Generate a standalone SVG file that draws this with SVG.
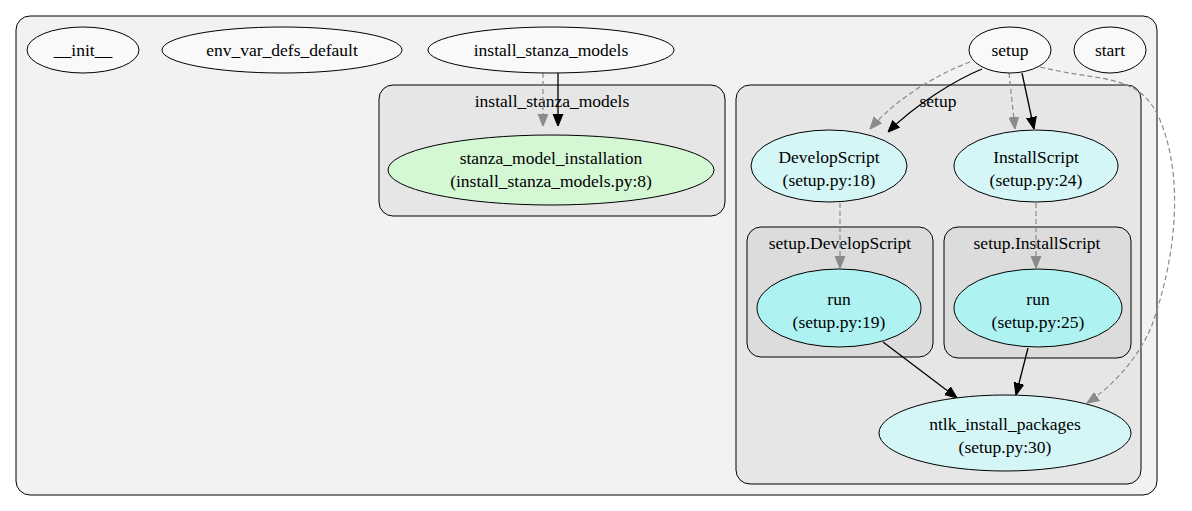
<svg xmlns="http://www.w3.org/2000/svg" width="1192" height="511" viewBox="0 0 1192 511">
<style>
text{font-family:"Times New Roman",Times,"Liberation Serif","DejaVu Serif",serif;font-size:17.5px;fill:#000;text-anchor:middle}
.cl{stroke:#000;stroke-width:1}
.n{stroke:#000;stroke-width:1}
.w{fill:#f9f9f9}
.e{fill:none;stroke:#000;stroke-width:1.3}
.d{fill:none;stroke:#888c8c;stroke-width:1.2;stroke-dasharray:5,3}
</style>
<defs>
<marker id="ab" markerUnits="userSpaceOnUse" markerWidth="12" markerHeight="12" refX="10" refY="5" orient="auto" viewBox="0 0 10 10"><path d="M0,1 L10,5 L0,9 Z" fill="#000" stroke="#000"/></marker>
<marker id="ag" markerUnits="userSpaceOnUse" markerWidth="12" markerHeight="12" refX="10" refY="5" orient="auto" viewBox="0 0 10 10"><path d="M0,1 L10,5 L0,9 Z" fill="#888c8c" stroke="#888c8c"/></marker>
</defs>
<rect width="1192" height="511" fill="#fff"/>
<g id="cluster_root"><rect class="cl" x="16" y="16" width="1141" height="479" rx="14" fill="#f2f2f2"/></g>
<g id="cluster_install_stanza_models"><rect class="cl" x="379" y="85" width="346" height="131" rx="14" fill="#e6e6e6"/><text x="552" y="107">install_stanza_models</text></g>
<g id="cluster_setup"><rect class="cl" x="736" y="85" width="405" height="399" rx="14" fill="#e6e6e6"/><text x="938" y="107">setup</text></g>
<g id="cluster_setup_DevelopScript"><rect class="cl" x="747" y="227" width="186" height="130" rx="14" fill="#dcdcdc"/><text x="840" y="249">setup.DevelopScript</text></g>
<g id="cluster_setup_InstallScript"><rect class="cl" x="944" y="227" width="187" height="131" rx="14" fill="#dcdcdc"/><text x="1037" y="249">setup.InstallScript</text></g>
<g id="connectors">
<path class="d" d="M543,73 L543,126" marker-end="url(#ag)"/>
<path class="e" d="M558,73 L558,126" marker-end="url(#ab)"/>
<path class="d" d="M970,62 C935,75 895,100 870,129" marker-end="url(#ag)"/>
<path class="e" d="M982,69 C955,80 915,105 888,132" marker-end="url(#ab)"/>
<path class="d" d="M1009,73 L1015,129" marker-end="url(#ag)"/>
<path class="e" d="M1022,73 L1034,129" marker-end="url(#ab)"/>
<path class="d" d="M1040,67 C1100,82 1140,72 1160,120 C1185,180 1175,260 1152,325 C1138,360 1110,388 1087,403" marker-end="url(#ag)"/>
<path class="d" d="M840,203 L840,268" marker-end="url(#ag)"/>
<path class="d" d="M1036,203 L1036,268" marker-end="url(#ag)"/>
<path class="e" d="M883,342 L957,398" marker-end="url(#ab)"/>
<path class="e" d="M1028,348 L1016,395" marker-end="url(#ab)"/>
</g>
<g id="node_init"><ellipse class="n w" cx="83" cy="50" rx="56" ry="23"/><text x="83" y="56">__init__</text></g>
<g id="node_env_var_defs_default"><ellipse class="n w" cx="282" cy="50" rx="120" ry="23"/><text x="282" y="56">env_var_defs_default</text></g>
<g id="node_install_stanza_models"><ellipse class="n w" cx="551" cy="50" rx="123" ry="23"/><text x="551" y="56">install_stanza_models</text></g>
<g id="node_setup"><ellipse class="n w" cx="1010" cy="50" rx="41" ry="23"/><text x="1010" y="56">setup</text></g>
<g id="node_start"><ellipse class="n w" cx="1110" cy="50" rx="36" ry="23"/><text x="1110" y="56">start</text></g>
<g id="node_stanza_model_installation"><ellipse class="n" cx="551" cy="170" rx="163" ry="35" fill="#d4f7d4"/><text x="551" y="164">stanza_model_installation</text><text x="551" y="187">(install_stanza_models.py:8)</text></g>
<g id="node_DevelopScript"><ellipse class="n" cx="829" cy="166" rx="78" ry="36" fill="#d4f6f6"/><text x="829" y="163">DevelopScript</text><text x="829" y="186">(setup.py:18)</text></g>
<g id="node_InstallScript"><ellipse class="n" cx="1036" cy="166" rx="82" ry="36" fill="#d4f6f6"/><text x="1036" y="163">InstallScript</text><text x="1036" y="186">(setup.py:24)</text></g>
<g id="node_run19"><ellipse class="n" cx="839" cy="308" rx="82" ry="39" fill="#aef2f2"/><text x="839" y="305">run</text><text x="839" y="328">(setup.py:19)</text></g>
<g id="node_run25"><ellipse class="n" cx="1038" cy="308" rx="84" ry="39" fill="#aef2f2"/><text x="1038" y="305">run</text><text x="1038" y="328">(setup.py:25)</text></g>
<g id="node_ntlk_install_packages"><ellipse class="n" cx="1005" cy="433" rx="126" ry="38" fill="#d4f6f6"/><text x="1005" y="430">ntlk_install_packages</text><text x="1005" y="453">(setup.py:30)</text></g>
</svg>
